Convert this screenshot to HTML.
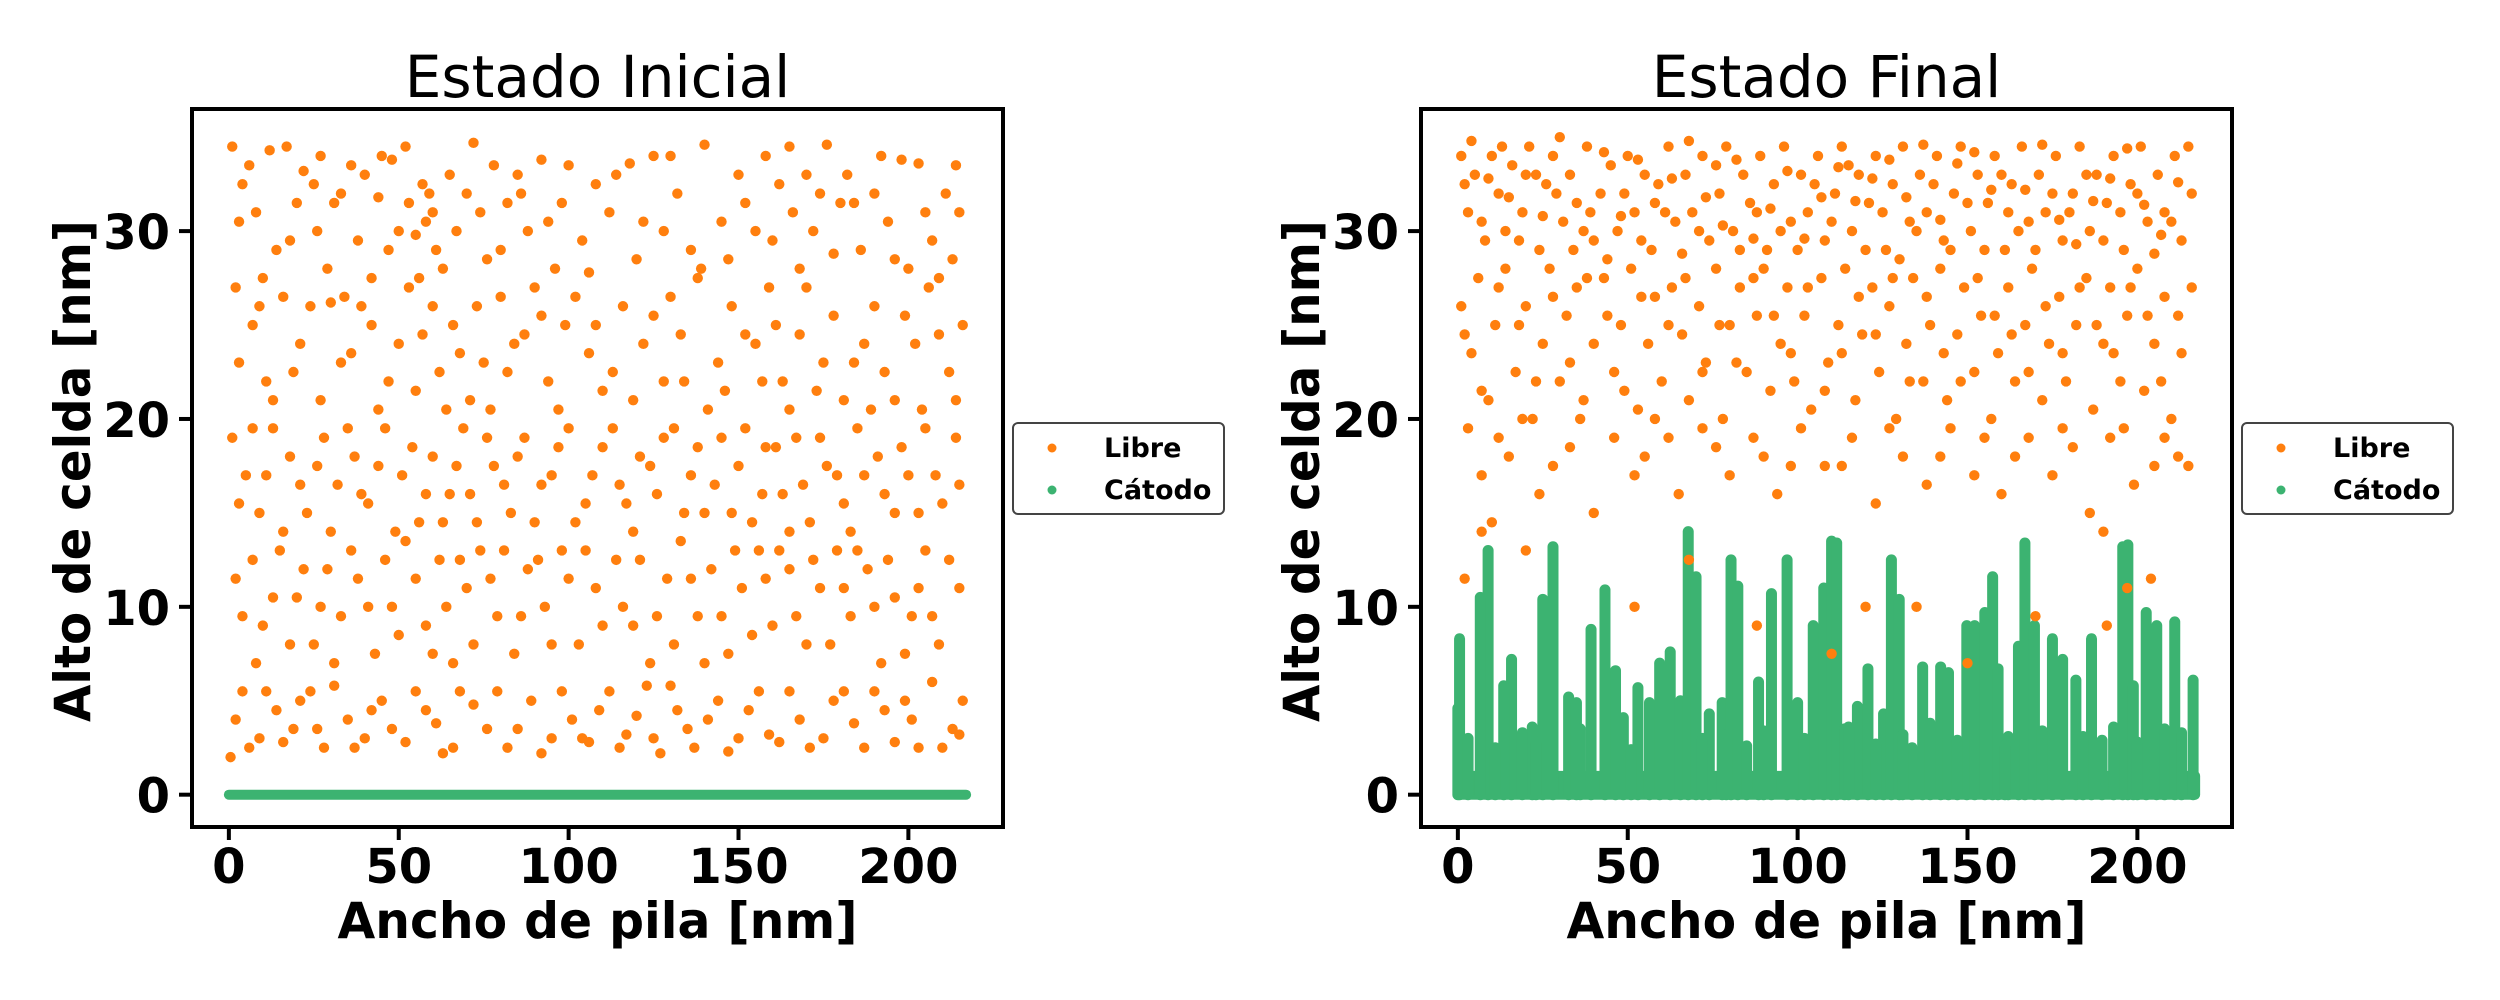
<!DOCTYPE html>
<html><head><meta charset="utf-8"><style>
html,body{margin:0;padding:0;background:#fff;}
svg{display:block;font-family:"DejaVu Sans","Liberation Sans",sans-serif;}
</style></head><body>
<svg id="fig" width="2500" height="1000" viewBox="0 0 2500 1000" xmlns="http://www.w3.org/2000/svg"></svg>
<script>
// ---- data ----
const xTicks = [0, 50, 100, 150, 200];
const yTicks = [0, 10, 20, 30];
const cathodeWidth = 217;
const initLibre = [
[1,34.5],[6,33.5],[12,34.3],[17,34.5],[22,33.2],[27,34],[33,32],[40,33],[45,34],[48,33.8],[52,34.5],[57,32.5],[60,31],[65,33],[72,34.7],[78,33.5],[85,33],[92,33.8],[100,33.5],[108,32.5],[118,33.6],[125,34],[130,34],[140,34.6],[150,33],[158,34],[165,34.5],[170,33],[176,34.6],[182,33],[190,32],[198,33.8],[203,33.6],[211,32],[215,31],
[3,30.5],[8,31],[14,29],[20,31.5],[26,30],[31,31.5],[38,29.5],[44,31.8],[50,30],[55,29.8],[58,30.5],[61,29],[63,28],[70,32],[76,28.5],[82,31.5],[88,30],[96,28],[104,29.5],[112,31],[120,28.5],[128,30],[136,29],[145,30.5],[152,31.5],[160,29.5],[166,31],[172,30],[180,31.5],[186,29],[194,30.5],[200,28],[207,29.5],[213,28.5],
[2,27],[7,25],[11,22],[16,26.5],[21,24],[24,26],[30,26.2],[34,26.5],[36,23.5],[42,25],[47,22],[53,27],[57,24.5],[62,22.5],[66,25],[71,21],[75,23],[80,26.5],[84,24],[90,27],[94,22],[99,25],[106,23.5],[110,21.5],[116,26],[122,24],[130,26.5],[134,22],[138,27.5],[144,23],[148,26],[155,24],[159,27],[163,22],[168,24.5],[173,21.5],[178,25.5],[184,23],[190,26],[196,21],[202,24],[206,27],[212,22.5],[216,25],
[1,19],[5,17],[9,15],[13,19.5],[18,18],[23,15],[28,19],[32,16.5],[37,18],[41,15.5],[46,19.5],[51,17],[56,14.5],[60,18],[65,16],[69,19.5],[73,14.5],[78,17.5],[83,15],[87,19],[92,16.5],[97,18.5],[102,14.5],[107,17],[113,19.5],[117,15.5],[121,18],[126,16],[131,19.5],[136,17],[140,15],[145,19],[150,17.5],[154,14.5],[158,18.5],[163,16],[167,19],[171,14.5],[176,17.5],[181,15.5],[185,19.5],[189,20.5],[193,16],[198,18.5],[203,15],[208,17],[214,19],
[2,11.5],[7,12.5],[10,9],[15,13],[20,10.5],[25,8],[29,12],[33,9.5],[38,11.5],[43,7.5],[48,10],[52,13.5],[58,9],[62,12.5],[66,7],[70,11],[74,13],[79,9.5],[84,7.5],[88,12],[93,10],[98,13],[103,8],[108,11],[114,12.5],[119,9],[124,7],[129,11.5],[133,13.5],[138,9.5],[142,12],[147,7.5],[151,11],[156,13],[160,9],[165,12],[170,8],[174,11],[179,13],[183,9.5],[188,12],[192,7],[196,10.5],[201,9.5],[205,13],[209,8],[215,11],
[0.5,2],[4,5.5],[9,3],[14,4.5],[19,3.5],[24,5.5],[28,2.5],[35,4],[40,3],[45,5],[52,2.8],[58,4.5],[63,2.2],[68,5.5],[76,3.5],[82,2.5],[89,5],[95,3],[101,4],[106,2.8],[112,5.5],[117,3.2],[123,5.8],[127,2.2],[132,4.5],[137,2.5],[144,5],[150,3],[156,5.5],[162,2.8],[168,4],[175,3],[181,5.5],[187,2.5],[193,4.5],[199,5],[203,2.5],[207,6],[213,3.5],[216,5],
[4,32.5],[10,27.5],[18,29.5],[25,32.5],[29,28],[36,33.5],[42,27.5],[47,29],[53,31.5],[56,27.5],[59,32],[67,30],[74,31],[80,29],[86,32],[94,30.5],[98,31.5],[106,27.8],[114,33],[122,30.5],[132,32],[139,28],[147,28.5],[155,30],[162,32.5],[168,28],[174,32],[178,28.8],[184,31.5],[192,34],[196,28.5],[205,31],[209,27.5],[214,33.5],
[3,23],[9,26],[13,21],[19,22.5],[27,21],[33,23],[39,26],[44,20.5],[50,24],[55,21.5],[60,26],[64,20.5],[68,23.5],[73,26],[77,20.5],[82,22.5],[87,24.5],[92,25.5],[97,20.5],[102,26.5],[108,25],[113,22.5],[119,21],[125,25.5],[128,22],[133,24.5],[141,20.5],[146,21.5],[152,24.5],[157,22],[161,25],[165,20.5],[170,27],[175,23],[181,21],[187,24],[193,22.5],[199,25.5],[204,20.5],[209,24.5],[214,21],
[3,15.5],[7,19.5],[11,17],[16,14],[21,16.5],[26,17.5],[30,14],[35,19.5],[39,16],[44,17.5],[49,14],[54,18.5],[58,16],[63,14.5],[67,17.5],[71,16],[76,19],[81,16.5],[85,18],[90,14.5],[95,17],[100,19.5],[105,15.5],[110,18.5],[115,16.5],[119,14],[124,17.5],[128,19],[134,15],[138,18.5],[143,16.5],[148,15],[152,19.5],[157,16],[161,18.5],[165,14],[169,16.5],[174,19],[179,17],[183,14],[187,17],[191,18],[196,15],[200,17],[205,19.5],[210,15.5],[215,16.5],
[4,9.5],[8,7],[13,10.5],[18,8],[22,12],[27,10],[31,7],[36,13],[41,10],[46,12.5],[50,8.5],[55,11.5],[60,7.5],[64,10],[68,12.5],[72,8],[77,11.5],[81,13],[86,9.5],[91,12.5],[95,8],[100,11.5],[105,13],[110,9],[116,10],[121,12.5],[126,9.5],[131,8],[136,11.5],[140,7],[145,9.5],[149,13],[154,8.5],[158,11.5],[162,13],[167,9.5],[172,12.5],[177,8],[181,11],[185,13],[190,10],[194,12.5],[199,7.5],[203,11],[207,9.5],[212,12.5],
[2,4],[6,2.5],[11,5.5],[16,2.8],[21,5],[26,3.5],[31,5.8],[37,2.5],[42,4.5],[48,3.5],[55,5.5],[61,3.8],[66,2.5],[72,4.8],[79,5.5],[85,3.5],[92,2.2],[98,5.5],[104,3],[109,4.5],[115,2.5],[120,4.2],[125,3],[130,5.8],[135,3.5],[141,4],[147,2.3],[153,4.5],[159,3.2],[165,5.5],[171,2.5],[178,5],[184,3.8],[190,5.5],[196,2.8],[201,4],[210,2.5],[215,3.2]
];
const finalLibre = [
[1,34],[3,31],[5,33],[8,29.5],[10,34],[12,32],[14,30],[16,33.5],[19,31],[21,34.5],[24,29],[26,32.5],[28,34],[31,30.5],[33,33],[35,31.5],[38,34.5],[40,29.5],[42,32],[45,33.5],[47,30],[50,34],[52,31],[55,33],[57,29],[59,32.5],[62,34.5],[64,30.5],[67,33],[69,31],[72,34],[74,29.5],[77,32],[79,34.5],[81,30],[84,33],[86,31.5],[89,34],[91,29],[93,32.5],[96,34.5],[98,30.5],[101,33],[103,31],[106,34],[108,29.5],[111,32],[113,34.5],[116,30],[118,33],[121,31.5],[123,34],[126,29],[128,32.5],[131,34.5],[133,30.5],[136,33],[138,31],[141,34],[143,29.5],[146,32],[148,34.5],[151,30],[153,33],[156,31.5],[158,34],[161,29],[163,32.5],[166,34.5],[168,30.5],[171,33],[173,31],[176,34],[178,29.5],[181,32],[183,34.5],[186,30],[188,33],[191,31.5],[193,34],[196,29],[198,32.5],[201,34.5],[203,30.5],[206,33],[208,31],[211,34],[213,29.5],[216,32],[215,34.5],
[2,32.5],[7,30.5],[13,34.5],[18,29.5],[23,33],[30,35],[37,30],[44,28.5],[49,32],[54,29.5],[61,31],[66,28.8],[71,30],[76,33.5],[83,29],[88,31],[95,30],[100,29],[105,32.5],[110,30.5],[115,33.5],[120,29],[125,31],[130,28.5],[135,30],[140,32.5],[145,29],[150,31.5],[155,29],[160,33],[165,30],[170,29],[175,32],[180,31],[185,33],[190,29.5],[195,31],[200,32],[205,28.8],[210,30.5],
[4,34.8],[9,32.8],[15,31.8],[20,33],[25,30.8],[29,32],[34,29],[39,31],[43,34.2],[48,30.8],[53,33.8],[58,31.5],[63,32.8],[68,34.8],[73,31.8],[78,30.3],[82,33.8],[87,29.6],[92,31.2],[97,33.2],[102,29.6],[107,31.8],[112,33.4],[117,31.6],[122,32.8],[127,33.8],[132,31.8],[137,34.6],[142,30.6],[147,33.6],[152,34.2],[157,32.2],[162,31],[167,32.2],[172,34.6],[177,30.6],[182,29.3],[187,31.6],[192,32.8],[197,34.4],[202,31.4],[207,29.8],[212,32.6],
[1,26],[4,23.5],[6,27.5],[9,21],[11,25],[14,28],[17,22.5],[20,26],[22,20],[25,24],[27,28],[30,22],[32,25.5],[35,27],[37,21],[40,24],[43,27.5],[46,22.5],[48,25],[51,28],[53,20.5],[56,24],[58,26.5],[60,22],[63,27],[66,24.5],[68,21],[71,26],[73,23],[76,28],[78,20],[80,25],[83,27],[85,22.5],[88,25.5],[90,28],[92,21.5],[95,24],[97,27],[99,22],[102,25.5],[104,20.5],[107,27.5],[109,23],[112,25],[114,28],[117,21],[119,24.5],[122,27],[124,22.5],[127,26],[129,20],[132,24],[134,27.5],[137,22],[139,25],[142,28],[144,21],[147,24.5],[149,27],[152,22.5],[154,25.5],[157,20],[159,23.5],[162,27],[164,22],[167,25],[169,28],[172,21],[174,24],[177,26.5],[179,22],[182,25],[185,27.5],[187,20.5],[190,24],[192,27],[195,22],[197,25.5],[200,28],[202,21.5],[205,24],[208,26.5],[210,20],[213,23.5],[216,27],
[2,24.5],[7,21.5],[12,27],[18,25],[23,22],[28,26.5],[33,23],[38,27.5],[44,25.5],[49,21.5],[54,26.5],[62,25],[67,27.5],[72,22.5],[77,25],[82,23],[87,27.5],[93,25.5],[98,23.5],[103,27],[108,21.5],[113,23.5],[118,26.5],[123,24.5],[128,27.5],[133,22],[138,26.5],[143,23.5],[148,22],[153,27.5],[158,25.5],[163,24.5],[168,22.5],[173,26],[178,23.5],[183,27],[188,25],[193,23.5],[198,27],[203,25.5],[207,22],[212,25.5],
[3,19.5],[7,17],[10,14.5],[15,18],[19,20],[24,16],[33,18.5],[40,15],[46,19],[52,17],[58,20],[65,16],[72,19.5],[80,17],[87,19],[94,16],[101,19.5],[108,17.5],[116,19],[123,15.5],[131,18],[138,16.5],[145,19.5],[152,17],[160,16],[168,19],[175,17],[181,18.5],[186,15],[192,19],[199,16.5],[205,17.5],[212,18],[190,14],
[12,19],[28,17.5],[36,20],[55,18],[62,19],[76,18.5],[90,18],[98,17.5],[113,17.5],[127,19.5],[142,18],[155,19],[164,18],[178,19.5],[196,19.5],[208,19],[215,17.5],
[2,11.5],[7,14],[20,13],[52,10],[68,12.5],[88,9],[110,7.5],[120,10],[135,10],[150,7],[170,9.5],[191,9],[197,11],[204,11.5]
];
// Dendrite columns in final state: x position (nm) and height (nm)
const dendX = [0.5,0,8.9,6.6,15.8,13.5,21.9,28,25,32.6,34.9,39.2,43.3,46.4,48.7,53,56.4,59.4,62.5,65.5,67.8,70.1,74,77.8,80.4,82.4,88.5,92.3,96.9,100,104.6,107.7,110,111.5,113.8,117.6,120.7,125.3,127.6,129.9,133.7,136.8,142.1,144.4,149.8,152.1,155.1,157.4,159,162,165,166.9,169.7,175,178,181.9,186.5,189.6,195.7,197.2,198.8,202.6,205.7,208,211,216.4,
3,11,19,23,36,51,72,79,85,90,102,115,123,131,139,147,161,172,184,193,200,213];
const dendH = [8.3,4.6,13,10.5,7.2,5.8,3.6,13.2,10.4,5.2,4.9,8.8,10.9,6.6,4.1,5.7,4.9,7,7.6,5,14,11.6,4.3,4.9,12.5,11.1,6,10.7,12.5,4.9,9,11,13.5,13.4,3.5,4.7,6.7,4.3,12.5,10.4,2.5,6.8,6.8,6.5,9,9,9.7,11.6,6.7,3.1,7.9,13.4,9,8.3,7.2,6.1,8.3,2.9,13.2,13.3,5.8,9.7,9,3.5,9.2,6.1,
3,2.5,3.3,2.8,3.5,2.4,3,3.2,2.6,3.4,3,3.6,2.7,3.2,3.8,2.9,2.6,3.4,3.1,3.6,2.8,3.3];
const baseH = 1.0;

const ORANGE = '#ff7f0e', GREEN = '#3cb371';
const NS = 'http://www.w3.org/2000/svg';
const svg = document.getElementById('fig');
function el(tag, attrs, parent) {
  const e = document.createElementNS(NS, tag);
  for (const k in attrs) e.setAttribute(k, attrs[k]);
  (parent || svg).appendChild(e);
  return e;
}
const XLIM = [-10.85, 227.85], YLIM = [-1.72, 36.5];
const TOP = 109, BOT = 827;

function panel(left, title, libre, key) {
  const right = left + 811;
  const sx = v => left + (v - XLIM[0]) / (XLIM[1] - XLIM[0]) * 811;
  const sy = v => BOT - (v - YLIM[0]) / (YLIM[1] - YLIM[0]) * (BOT - TOP);
  const g = el('g', {});
  
  
  const clipId = 'clip-' + key;
  const cp = el('clipPath', {id: clipId}, g);
  el('rect', {x: left, y: TOP, width: 811, height: BOT - TOP}, cp);
  const plot = el('g', {'clip-path': 'url(#' + clipId + ')'}, g);
  
  

  if (key === 'initial') {
    const c = el('line', {x1: sx(0), y1: sy(0), x2: sx(cathodeWidth), y2: sy(0), stroke: GREEN, 'stroke-width': 10, 'stroke-linecap': 'round'}, plot);
    
    
  } else {
    const b = el('rect', {x: sx(0) - 5, y: sy(baseH) - 5, width: sx(cathodeWidth) - sx(0) + 10, height: sy(0) - sy(baseH) + 10, rx: 5, fill: GREEN}, plot);
    
    
    for (let i = 0; i < dendX.length; i++) {
      const d = el('line', {x1: sx(dendX[i]), y1: sy(0), x2: sx(dendX[i]), y2: sy(dendH[i]), stroke: GREEN, 'stroke-width': 11, 'stroke-linecap': 'round'}, plot);
      
      
    }
  }
  for (const p of libre) {
    const c = el('circle', {cx: sx(p[0]), cy: sy(p[1]), r: 5.2, fill: ORANGE}, plot);
    
    
  }
  const frame = el('rect', {x: left, y: TOP, width: 811, height: BOT - TOP, fill: 'none', stroke: '#000', 'stroke-width': 4}, g);
  
  
  for (const t of xTicks) {
    const x = sx(t);
    const tk = el('line', {x1: x, y1: BOT, x2: x, y2: BOT + 13, stroke: '#000', 'stroke-width': 4}, g);
    
    
    const tl = el('text', {x: x, y: 883, 'text-anchor': 'middle', 'font-size': 48, 'font-weight': 'bold'}, g);
    tl.textContent = t;
    
    
  }
  for (const t of yTicks) {
    const y = sy(t);
    const tk = el('line', {x1: left - 13, y1: y, x2: left, y2: y, stroke: '#000', 'stroke-width': 4}, g);
    
    
    const tl = el('text', {x: left - 22, y: y + 18, 'text-anchor': 'end', 'font-size': 48, 'font-weight': 'bold'}, g);
    tl.textContent = t;
    
    
  }
  const ttl = el('text', {x: left + 405.5, y: 97, 'text-anchor': 'middle', 'font-size': 58}, g);
  ttl.textContent = title;
  
  
  const xl = el('text', {x: left + 405.5, y: 938, 'text-anchor': 'middle', 'font-size': 50, 'font-weight': 'bold', textLength: 520, lengthAdjust: 'spacingAndGlyphs'}, g);
  xl.textContent = 'Ancho de pila [nm]';
  
  
  const yl = el('text', {x: 0, y: 0, 'text-anchor': 'middle', 'font-size': 50, 'font-weight': 'bold', textLength: 502, lengthAdjust: 'spacingAndGlyphs', transform: 'translate(' + (left - 102) + ',471) rotate(-90)'}, g);
  yl.textContent = 'Alto de celda [nm]';
  
  

  const lx = right + 10;
  const lg = el('g', {}, g);
  
  
  el('rect', {x: lx, y: 423, width: 211, height: 91, rx: 5, fill: '#fff', stroke: '#444', 'stroke-width': 2}, lg);
  const items = [['Libre', ORANGE, 448], ['Cátodo', GREEN, 490]];
  for (const it of items) {
    const m = el('circle', {cx: lx + 39, cy: it[2], r: 4.5, fill: it[1]}, lg);
    
    
    const t = el('text', {x: lx + 91, y: it[2] + 9, 'font-size': 27, 'font-weight': 'bold'}, lg);
    t.textContent = it[0];
    
    
  }
}
panel(192, 'Estado Inicial', initLibre, 'initial');
panel(1421, 'Estado Final', finalLibre, 'final');
</script>
</body></html>
